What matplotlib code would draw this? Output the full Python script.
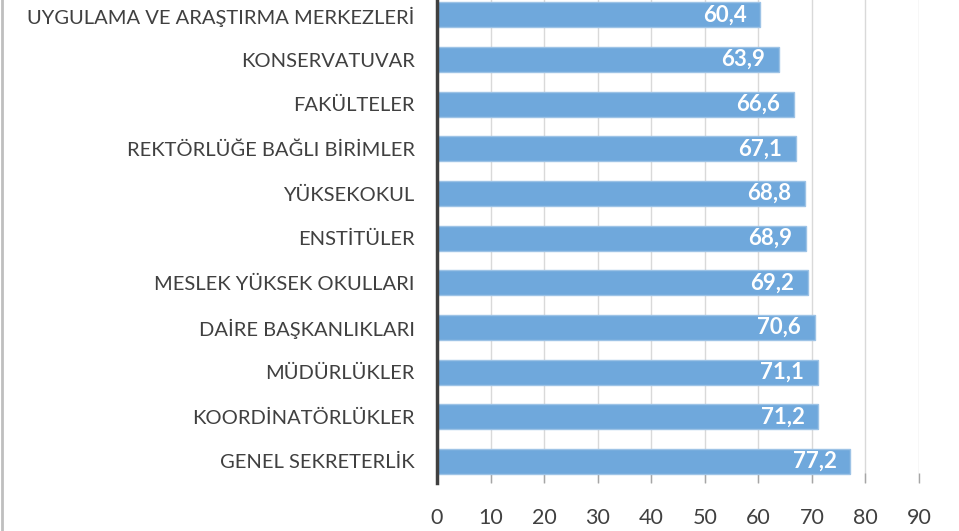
import matplotlib
matplotlib.use("Agg")
from matplotlib import pyplot as plt
import numpy as np

# data (bottom to top)
units = ['GENEL SEKRETERLİK', 'KOORDİNATÖRLÜKLER', 'MÜDÜRLÜKLER',
         'DAİRE BAŞKANLIKLARI', 'MESLEK YÜKSEK OKULLARI', 'ENSTİTÜLER',
         'YÜKSEKOKUL', 'REKTÖRLÜĞE BAĞLI BİRİMLER', 'FAKÜLTELER',
         'KONSERVATUVAR', 'UYGULAMA VE ARAŞTIRMA MERKEZLERİ']
scores = [77.2, 71.2, 71.1, 70.6, 69.2, 68.9, 68.8, 67.1, 66.6, 63.9, 60.4]
xticks = [0, 10, 20, 30, 40, 50, 60, 70, 80, 90]

plt.rcParams['font.family'] = ['Lato', 'DejaVu Sans']

fig = plt.figure(figsize=(9.59, 5.31), dpi=100)
ax = fig.add_axes([437/959., 1 - 483/531., (919 - 437)/959., 483/531.])

y = np.arange(len(units))
ax.barh(y, scores, height=0.56, color='#6fa8dc', edgecolor='#9dc3e6',
        linewidth=1, zorder=2)

for yi, v in zip(y, scores):
    ax.text(v - 2.6, yi, ('%.1f' % v).replace('.', ','), ha='right', va='center',
            color='white', fontsize=16, fontweight='bold', zorder=3)

ax.set_xlim(0, 90)
ax.set_ylim(-0.485, len(units) - 1 + 0.336)
ax.set_xticks(xticks)
ax.set_yticks(y)
ax.set_yticklabels(units, fontsize=14.5, color='#404040')
ax.tick_params(axis='y', length=0, pad=16)
ax.tick_params(axis='x', direction='in', length=7, width=1, color='#a6a6a6',
               labelsize=15.5, labelcolor='#404040', pad=18)
ax.grid(axis='x', color='#d9d9d9', linewidth=1, zorder=0)
for s in ['top', 'right', 'bottom']:
    ax.spines[s].set_visible(False)
ax.spines['left'].set_color('#404040')
ax.spines['left'].set_linewidth(2.5)
ax.spines['left'].set_zorder(4)

# light frame at left edge
fig.add_artist(plt.Line2D([2/959., 2/959.], [0, 1], color='#bfbfbf', linewidth=2,
                          transform=fig.transFigure))

fig.savefig('out.png', dpi=100)
